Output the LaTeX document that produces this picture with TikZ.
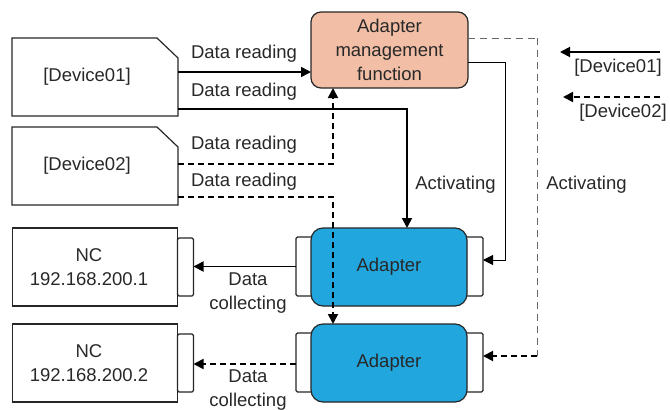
\documentclass[tikz,border=0pt]{standalone}
\usepackage{fontspec}
\setmainfont{Liberation Sans}
\usetikzlibrary{arrows.meta, positioning}
\definecolor{colMgmt}   {RGB}{242,191,166}
\definecolor{colAdapter}{RGB}{33,166,222}
\definecolor{colText}   {RGB}{40,40,40}
\tikzset{
  base/.style   = {draw=black!85, line width=1.2pt, text=colText, align=center,
                   inner sep=0pt, outer sep=0pt},
  devbox/.style = {text=colText, inner sep=0pt, outer sep=0pt,
                   minimum width=166pt, minimum height=78pt},
  devline/.style= {draw=black!85, line width=1.2pt, line join=miter},
  ncbox/.style  = {base, minimum width=165pt, minimum height=78pt},
  nctab/.style  = {base, fill=white, rounded corners=1.5pt, minimum width=16pt,
                   minimum height=58pt},
  mgmtbox/.style= {base, fill=colMgmt, rounded corners=10pt, minimum width=157pt,
                   minimum height=76pt},
  adbox/.style  = {base, fill=colAdapter, rounded corners=12pt, minimum width=156pt,
                   minimum height=78pt},
  adtab/.style  = {base, fill=white, rounded corners=1.5pt, minimum width=18pt,
                   minimum height=59pt},
  lbl/.style    = {text=colText, align=center, inner sep=0pt},
  arr/.style    = {-{Triangle[length=10pt, width=10pt]}, line width=1.8pt},
  darr/.style   = {arr, dash pattern=on 6pt off 4pt},
  tarr/.style   = {-{Triangle[length=10pt, width=10pt]}, line width=1pt},
  gline/.style  = {draw=black!60, line width=1pt, dash pattern=on 7pt off 5pt},
}

\begin{document}
\begin{tikzpicture}[x=1pt, y=-1pt, font=\fontsize{18.5}{24}\selectfont]
\useasboundingbox (0,0) rectangle (670,410);

%% -- device boxes (cut corner) ----------------------------------------------
\node[devbox] (dev1) at (95,77) {};
\draw[devline] (dev1.south west) -- (dev1.north west) -- ([xshift=-21pt]dev1.north east)
  -- ([yshift=-20pt]dev1.north east) -- (dev1.south east) -- cycle;
\node[lbl] (dev1txt) at ([xshift=-8pt]dev1.center) {[Device01]};
\node[devbox] (dev2) at (95,166) {};
\draw[devline] (dev2.south west) -- (dev2.north west) -- ([xshift=-21pt]dev2.north east)
  -- ([yshift=-20pt]dev2.north east) -- (dev2.south east) -- cycle;
\node[lbl] (dev2txt) at ([xshift=-8pt]dev2.center) {[Device02]};

%% -- NC boxes ---------------------------------------------------------------
\node[ncbox] (nc1) at (95,267) {};
\node[lbl] (nc1txt) at ([xshift=-6pt]nc1.center) {NC\\192.168.200.1};
\node[nctab, anchor=west] (nc1t) at (nc1.east) {};
\node[ncbox] (nc2) at (95,363) {};
\node[lbl] (nc2txt) at ([xshift=-6pt]nc2.center) {NC\\192.168.200.2};
\node[nctab, anchor=west] (nc2t) at (nc2.east) {};

%% -- management function and adapters --------------------------------------
\node[mgmtbox] (mgmt) at (389.5,50) {Adapter\\management\\function};

\node[adtab] (ad1l) at (305,266.5) {};
\node[adtab] (ad1r) at (474,266.5) {};
\node[adbox] (ad1)  at (389,267) {Adapter};
\node[adtab] (ad2l) at (305,362.5) {};
\node[adtab] (ad2r) at (474,362.5) {};
\node[adbox] (ad2)  at (389,363) {Adapter};

%% -- data reading arrows ----------------------------------------------------
\draw[arr]  ([yshift=5pt]dev1.east) -- ([yshift=5pt]dev1.east -| mgmt.west);
\draw[arr]  ([yshift=7pt]dev1.south east) -| ([xshift=18pt]ad1.north);
\draw[darr] ([yshift=2pt]dev2.east) -| ([xshift=-56.5pt]mgmt.south);
\draw[darr] ([yshift=8pt]dev2.south east) -| ([xshift=-56pt]ad2.north);

%% -- activating arrows ------------------------------------------------------
\draw[tarr] ([yshift=-12pt]mgmt.east) -- ++(37pt,0pt) |- ([yshift=6.5pt]ad1r.east);
\draw[gline] ([yshift=12pt]mgmt.east) -- ++(69pt,0pt) coordinate (gtop);
\coordinate (gbot) at ([yshift=6.5pt]ad2r.east -| gtop);
\draw[gline] (gtop) -- (gbot);
\draw[darr] (gbot) -- ([yshift=6.5pt]ad2r.east);

%% -- data collecting arrows -------------------------------------------------
\draw[arr]  (ad1l.west) -- (ad1l.west -| nc1t.east);
\draw[darr] ([yshift=-1.5pt]ad2l.west) -- ([yshift=-1.5pt]ad2l.west -| nc2t.east);

%% -- labels -----------------------------------------------------------------
\node[lbl] (rd1) at (244,54)    {Data reading};
\node[lbl] (rd2) at (244,91.5)  {Data reading};
\node[lbl] (rd3) at (244,145)   {Data reading};
\node[lbl] (rd4) at (244,182)   {Data reading};
\node[lbl] (act1) at (455.5,185) {Activating};
\node[lbl] (act2) at (586.5,185) {Activating};
\node[lbl] (col1) at (248,293)  {Data\\collecting};
\node[lbl] (col2) at (248,390)  {Data\\collecting};

%% -- legend -----------------------------------------------------------------
\coordinate (leg1a) at (660,52);
\coordinate (leg1b) at (560,52);
\draw[arr] (leg1a) -- (leg1b);
\node[lbl] (leg1txt) at (618,67.5) {[Device01]};
\coordinate (leg2a) at (660,97);
\coordinate (leg2b) at (563,97);
\draw[darr] (leg2a) -- (leg2b);
\node[lbl] (leg2txt) at (623,112.5) {[Device02]};

\end{tikzpicture}
\end{document}
